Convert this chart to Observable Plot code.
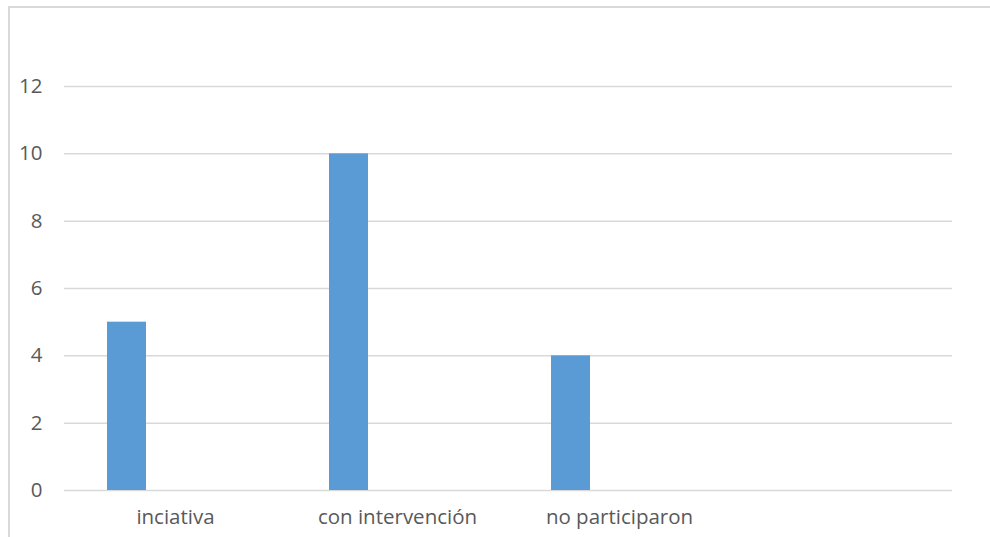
<!DOCTYPE html>
<html>
<head>
<meta charset="utf-8">
<script src="https://cdn.jsdelivr.net/npm/d3@7"></script>
<script src="https://cdn.jsdelivr.net/npm/@observablehq/plot@0.6"></script>
<style>
  html, body { margin: 0; padding: 0; background: #fff; }
  #wrap { position: relative; width: 990px; height: 537px; overflow: hidden; }
  #frame { position: absolute; left: 8px; top: 6px; width: 1000px; height: 600px;
           border-left: 2px solid #d9d9d9; border-top: 2px solid #d9d9d9; box-sizing: border-box; }
  #chart { position: absolute; left: 0; top: 0; }
</style>
</head>
<body>
<div id="wrap"><div id="frame"></div><div id="chart"></div></div>
<script>
const categories = ["inciativa", "con intervención", "no participaron", ""];
const values = [5, 10, 4, null];
const yTicks = [0, 2, 4, 6, 8, 10, 12];

const data = categories.map((c, i) => ({category: c, value: values[i]}));

const plot = Plot.plot({
  width: 990,
  height: 537,
  marginLeft: 64,
  marginRight: 38,
  marginTop: 86,
  marginBottom: 47,
  style: {fontFamily: "'Open Sans', sans-serif", fontSize: "20.5px", color: "#595959", background: "transparent"},
  x: {domain: categories, padding: 0, label: null},
  y: {domain: [0, 12], ticks: yTicks, label: null},
  marks: [
    Plot.gridY(yTicks, {stroke: "#d9d9d9", strokeOpacity: 1, strokeWidth: 1.5}),
    Plot.barY(data.filter(d => d.value != null), {x: "category", y: "value", fill: "#5b9bd5", insetLeft: 43, insetRight: 140}),
    Plot.axisY(yTicks, {tickSize: 0, tickPadding: 22, fill: "#595959", fontSize: 20.5}),
    Plot.axisX({tickSize: 0, tickPadding: 19, fill: "#595959", fontSize: 20.5})
  ]
});
document.getElementById("chart").appendChild(plot);
</script>
</body>
</html>
